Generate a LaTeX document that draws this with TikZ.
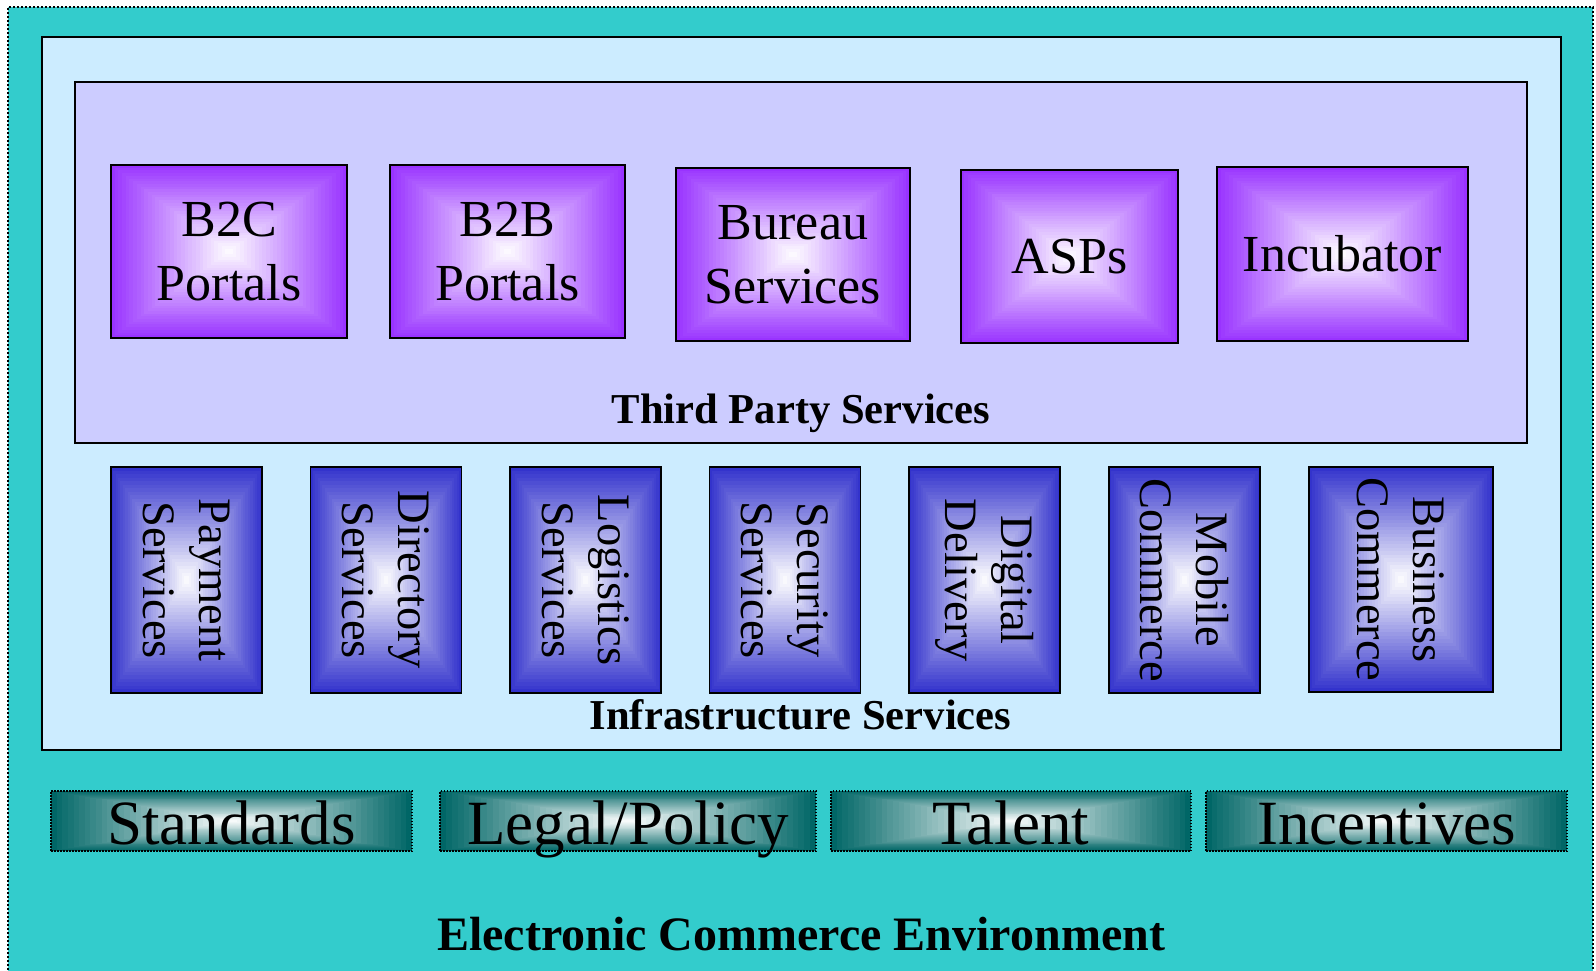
\documentclass[tikz,border=0pt]{standalone}
\usepackage{fontspec}
\setmainfont{Liberation Serif}
\usetikzlibrary{calc}

\definecolor{envteal}{RGB}{51,204,204}
\definecolor{infrablue}{RGB}{204,236,255}
\definecolor{tpslilac}{RGB}{204,204,255}
\definecolor{violetedge}{RGB}{153,51,255}
\definecolor{blueedge}{RGB}{51,51,204}
\definecolor{tealedge}{RGB}{0,102,102}

% rectangular glow: edge colour fading to white at the centre of the node
\newcommand\centreglow[1]{%
  \foreach \k in {0,...,31}{%
    \pgfmathsetmacro\s{1-\k/32}%
    \pgfmathtruncatemacro\m{100*\s}%
    \fill[#1!\m!white]
      ($(path picture bounding box.center)!\s!(path picture bounding box.south west)$)
      rectangle
      ($(path picture bounding box.center)!\s!(path picture bounding box.north east)$);
  }}

\tikzset{
  layerframe/.style={draw=black, line width=1.6pt},
  glowbox/.style={draw=black, line width=1.5pt, inner sep=0pt, align=center},
  portalbox/.style={glowbox, path picture={\centreglow{violetedge}},
    font=\fontsize{52}{64}\selectfont},
  infrabox/.style={glowbox, rotate=-90, path picture={\centreglow{blueedge}},
    font=\fontsize{46.5}{56}\selectfont, minimum width=226pt},
  pillarbox/.style={draw=black, line width=1.5pt, dash pattern=on 1.5pt off 1.5pt,
    inner sep=0pt, path picture={\centreglow{tealedge}},
    font=\fontsize{63}{70}\selectfont, text height=46pt, text depth=0pt,
    minimum height=60pt},
  layerlabel/.style={font=\bfseries\fontsize{42.6}{50}\selectfont, anchor=base, inner sep=0pt},
}

\begin{document}
\begin{tikzpicture}[x=1pt,y=-1pt]
\useasboundingbox (0,0) rectangle (1596,971);
\clip (0,0) rectangle (1596,971);

% environment layer
\fill[envteal] (8,7) rectangle (1593,990);
\draw[line width=2pt, dash pattern=on 2pt off 2pt] (8,990) -- (8,7) -- (1593,7) -- (1593,990);

% infrastructure layer and third party layer
\draw[layerframe, fill=infrablue] (42,37) rectangle (1561,750);
\draw[layerframe, fill=tpslilac] (75,82) rectangle (1527,443);

% third party services
\node[portalbox, minimum width=236pt, minimum height=173pt] (b2c) at (229,251.5) {B2C\\Portals};
\node[portalbox, minimum width=235pt, minimum height=173pt] (b2b) at (507.5,251.5) {B2B\\Portals};
\node[portalbox, minimum width=234pt, minimum height=173pt] (bureau) at (793,254.5) {Bureau\\Services};
\node[portalbox, minimum width=217pt, minimum height=173pt] (asps) at (1069.5,256.5) {ASPs};
\node[portalbox, minimum width=251pt, minimum height=174pt] (incubator) at (1342.5,254) {Incubator};
\node[layerlabel] (tpslabel) at (801,423) {Third Party Services};

% infrastructure services (text runs downwards)
\node[infrabox, minimum height=151pt] (payment) at (186.5,580) {Payment\\Services};
\node[infrabox, minimum height=151pt] (directory) at (386,580) {Directory\\Services};
\node[infrabox, minimum height=151pt] (logistics) at (585.5,580) {Logistics\\Services};
\node[infrabox, minimum height=151pt] (security) at (785,580) {Security\\Services};
\node[infrabox, minimum height=151pt] (digital) at (984.5,580) {Digital\\Delivery};
\node[infrabox, minimum height=151pt] (mobile) at (1184.5,580) {Mobile\\Commerce};
\node[infrabox, minimum height=184pt, minimum width=225pt] (business) at (1401,579.5) {Business\\Commerce};
\node[layerlabel] (infralabel) at (800.5,729) {Infrastructure Services};

% environment pillars
\node[pillarbox, minimum width=361pt] (standards) at (231.5,821) {Standards};
\node[pillarbox, minimum width=376pt] (legal) at (628,821) {Legal/Policy};
\node[pillarbox, minimum width=360pt] (talent) at (1011,821) {Talent};
\node[pillarbox, minimum width=361pt] (incentives) at (1386.5,821) {Incentives};
\node[layerlabel, font=\bfseries\fontsize{48}{56}\selectfont] (envlabel) at (801,950) {Electronic Commerce Environment};
\end{tikzpicture}
\end{document}
